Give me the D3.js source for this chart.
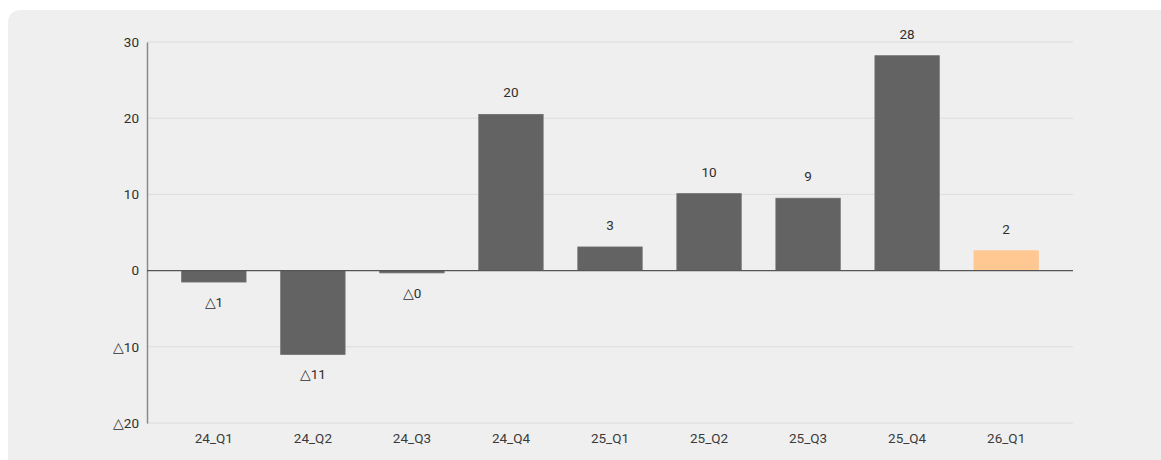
<!DOCTYPE html>
<html>
<head>
<meta charset="utf-8">
<script src="https://cdn.jsdelivr.net/npm/d3@7"></script>
<style>
  body { margin: 0; background: #fff; font-family: Roboto, "Noto Sans", sans-serif; }
  svg { display: block; }
</style>
</head>
<body>
<svg id="chart" width="1161" height="460"></svg>
<script>
var categories = ["24_Q1", "24_Q2", "24_Q3", "24_Q4", "25_Q1", "25_Q2", "25_Q3", "25_Q4", "26_Q1"];
var values = [-1.5, -11, -0.3, 20.5, 3.1, 10.1, 9.5, 28.2, 2.6];
var yTicks = [30, 20, 10, 0, -10, -20];
var highlight = "26_Q1";

var width = 1161, height = 460;

// negative numbers are shown with a triangle instead of a minus
var fmt = function(v) {
    var n = Math.trunc(Math.abs(v));
    return (v < 0 ? "\u25B3" : "") + n;
};

var svg = d3.select("#chart");

svg.append("rect")
    .attr("x", 8).attr("y", 10)
    .attr("width", 1180).attr("height", 470)
    .attr("rx", 12)
    .attr("fill", "#efefef");

var left = 147, right = 1073;
var y = d3.scaleLinear().domain([-20, 30]).range([423, 42]);
var x = d3.scaleBand().domain(categories).range([left, right]).padding(0.35);

// grid
svg.append("g")
    .selectAll("line")
    .data(yTicks.filter(d => d != 0))
    .join("line")
    .attr("x1", left).attr("x2", right)
    .attr("y1", d => y(d)).attr("y2", d => y(d))
    .attr("stroke", "#dcdcdc")
    .attr("stroke-width", 1);

// y axis
var yAxis = svg.append("g")
    .attr("transform", "translate(" + left + ",0)")
    .call(d3.axisLeft(y).tickValues(yTicks).tickSize(0).tickPadding(8).tickFormat(fmt));
yAxis.select(".domain").attr("stroke", "#8a8a8a").attr("stroke-width", 1.5);
yAxis.selectAll("text")
    .attr("fill", "#2e2e2e")
    .style("font-size", "13.5px")
    .style("font-family", "Roboto, sans-serif");

// bars
svg.append("g")
    .selectAll("rect")
    .data(values)
    .join("rect")
    .attr("x", (d, i) => x(categories[i]))
    .attr("width", x.bandwidth())
    .attr("y", d => y(Math.max(0, d)))
    .attr("height", d => Math.abs(y(d) - y(0)))
    .attr("fill", (d, i) => categories[i] == highlight ? "#ffc792" : "#636363")
    .attr("stroke", (d, i) => categories[i] == highlight ? "#ffc792" : "#6e6e6e")
    .attr("stroke-width", 0.8);

// zero line
svg.append("line")
    .attr("x1", left).attr("x2", right)
    .attr("y1", y(0)).attr("y2", y(0))
    .attr("stroke", "#555")
    .attr("stroke-width", 1.2);

// value labels
svg.append("g")
    .selectAll("text")
    .data(values)
    .join("text")
    .attr("x", (d, i) => x(categories[i]) + x.bandwidth() / 2)
    .attr("y", d => d >= 0 ? y(d) - 17 : y(d) + 25)
    .attr("text-anchor", "middle")
    .attr("fill", "#2e2e2e")
    .style("font-size", "13.5px")
    .text(fmt);

// x labels
var xAxis = svg.append("g")
    .attr("transform", "translate(0," + y(-20) + ")")
    .call(d3.axisBottom(x).tickSize(0).tickPadding(10));
xAxis.select(".domain").remove();
xAxis.selectAll("text")
    .attr("fill", "#3a3a3a")
    .style("font-size", "13.5px")
    .style("font-family", "Roboto, sans-serif");
</script>
</body>
</html>
